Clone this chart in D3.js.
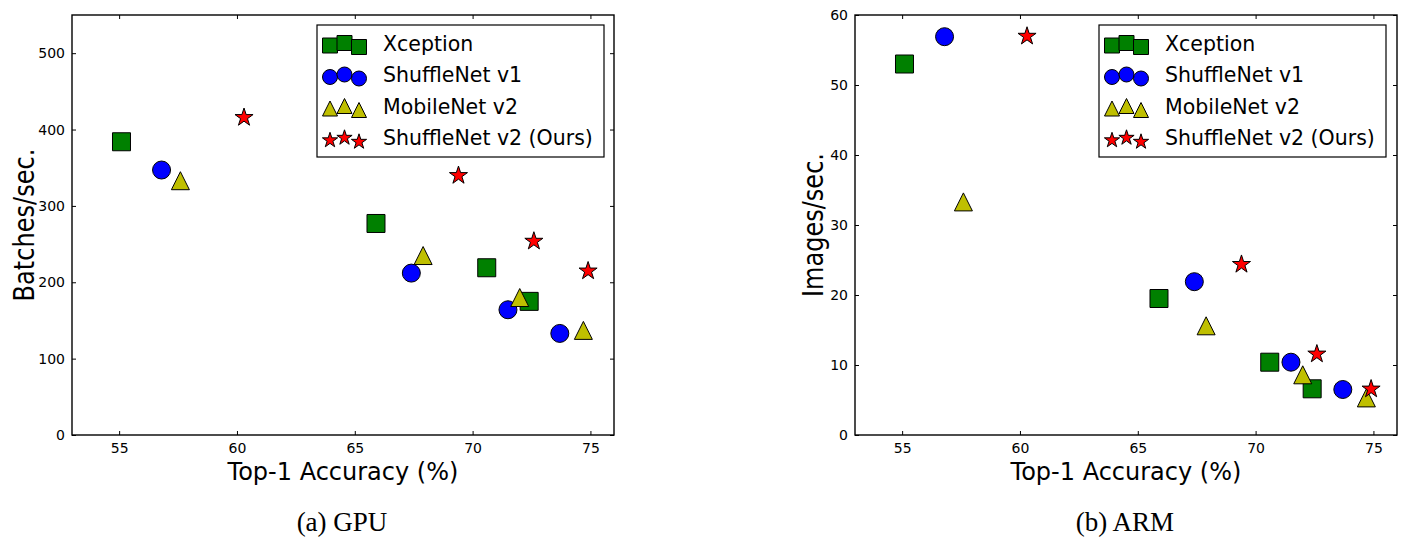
<!DOCTYPE html>
<html>
<head>
<meta charset="utf-8">
<script src="https://cdn.jsdelivr.net/npm/d3@7"></script>
<style>
  html, body { margin: 0; padding: 0; background: #fff; }
  svg { display: block; }
  text { font-family: "DejaVu Sans", sans-serif; fill: #000; }
</style>
</head>
<body>
<svg id="chart" width="1406" height="538"></svg>
<script>
// ---------------- data ----------------
const seriesNames = ["Xception", "ShuffleNet v1", "MobileNet v2", "ShuffleNet v2 (Ours)"];
const xceptionAcc = [55.1, 65.9, 70.6, 72.4];
const shuffleV1Acc = [56.8, 67.4, 71.5, 73.7];
const mobileV2Acc = [57.6, 67.9, 72.0, 74.7];
const shuffleV2Acc = [60.3, 69.4, 72.6, 74.9];

const xceptionGPU = [384, 277, 219, 175];
const shuffleV1GPU = [347, 212, 164, 133];
const mobileV2GPU = [333, 235, 180, 137];
const shuffleV2GPU = [417, 341, 255, 216];

const xceptionARM = [53.0, 19.5, 10.4, 6.6];
const shuffleV1ARM = [56.9, 21.9, 10.4, 6.5];
const mobileV2ARM = [33.3, 15.6, 8.6, 5.3];
const shuffleV2ARM = [57.1, 24.5, 11.7, 6.7];

const xTicks = [55, 60, 65, 70, 75];
const gpuTicks = [0, 100, 200, 300, 400, 500];
const armTicks = [0, 10, 20, 30, 40, 50, 60];

const xLabel = "Top-1 Accuracy (%)";
const panelSpecs = [
  { yLabel: "Batches/sec.", caption: "(a) GPU", yMax: 550, yTicks: gpuTicks,
    values: [xceptionGPU, shuffleV1GPU, mobileV2GPU, shuffleV2GPU] },
  { yLabel: "Images/sec.", caption: "(b) ARM", yMax: 60, yTicks: armTicks,
    values: [xceptionARM, shuffleV1ARM, mobileV2ARM, shuffleV2ARM] }
];
const accs = [xceptionAcc, shuffleV1Acc, mobileV2Acc, shuffleV2Acc];

// ---------------- styles ----------------
const colors = ["#008000", "#0000ff", "#bfbf00", "#ff0000"];
const shapes = ["square", "circle", "triangle", "star"];

const layouts = [
  { left: 72, right: 614, top: 15, bottom: 435, yLabelX: 34, yLabelLen: 153, legendX: 317 },
  { left: 855, right: 1397, top: 15, bottom: 435, yLabelX: 823, yLabelLen: 144, legendX: 1099 }
];

function markerPath(shape, s) {
  const h = s / 2;
  if (shape === "square") return `M${-h},${-h}H${h}V${h}H${-h}Z`;
  if (shape === "circle") return `M${h},0A${h},${h} 0 1,1 ${-h},0A${h},${h} 0 1,1 ${h},0Z`;
  if (shape === "triangle") return `M0,${-h}L${h},${h}L${-h},${h}Z`;
  const R = h, r = h * 0.381966;
  let d = "";
  for (let i = 0; i < 10; i++) {
    const rad = i % 2 === 0 ? R : r;
    const a = -Math.PI / 2 + i * Math.PI / 5;
    d += (i === 0 ? "M" : "L") + (rad * Math.cos(a)).toFixed(2) + "," + (rad * Math.sin(a) + h * 0.1).toFixed(2);
  }
  return d + "Z";
}
const plotSize = [18, 18, 18, 19];
const legSize = [15, 15, 15, 16];

const svg = d3.select("#chart");

panelSpecs.forEach((spec, pi) => {
  const L = layouts[pi];
  const x = d3.scaleLinear().domain([53, 76]).range([L.left, L.right]);
  const y = d3.scaleLinear().domain([0, spec.yMax]).range([L.bottom, L.top]);
  const g = svg.append("g");

  const axB = g.append("g").attr("transform", `translate(0,${L.bottom})`)
    .call(d3.axisBottom(x).tickValues(xTicks).tickSize(-4).tickPadding(8).tickFormat(d3.format("d")));
  const axT = g.append("g").attr("transform", `translate(0,${L.top})`)
    .call(d3.axisTop(x).tickValues(xTicks).tickSize(-4).tickFormat(""));
  const axL = g.append("g").attr("transform", `translate(${L.left},0)`)
    .call(d3.axisLeft(y).tickValues(spec.yTicks).tickSize(-4).tickPadding(7).tickFormat(d3.format("d")));
  const axR = g.append("g").attr("transform", `translate(${L.right},0)`)
    .call(d3.axisRight(y).tickValues(spec.yTicks).tickSize(-4).tickFormat(""));
  [axB, axT, axL, axR].forEach(a => {
    a.select(".domain").remove();
    a.selectAll(".tick line").attr("stroke", "#000").attr("stroke-width", 1);
    a.selectAll(".tick text").style("font-family", "'DejaVu Sans', sans-serif").style("font-size", "14px").attr("fill", "#000");
  });

  g.append("rect").attr("x", L.left).attr("y", L.top)
    .attr("width", L.right - L.left).attr("height", L.bottom - L.top)
    .attr("fill", "none").attr("stroke", "#000").attr("stroke-width", 1.4);

  spec.values.forEach((vals, si) => {
    g.append("g").selectAll("path").data(vals).join("path")
      .attr("d", markerPath(shapes[si], plotSize[si]))
      .attr("transform", (d, i) => `translate(${x(accs[si][i])},${y(d)})`)
      .attr("fill", colors[si]).attr("stroke", "#000").attr("stroke-width", 1);
  });

  g.append("text").attr("x", (L.left + L.right) / 2).attr("y", 480)
    .attr("text-anchor", "middle").style("font-size", "24px").text(xLabel);
  g.append("text").attr("transform", `translate(${L.yLabelX},${(L.top + L.bottom) / 2}) rotate(-90)`)
    .attr("text-anchor", "middle").style("font-size", "28px")
    .attr("textLength", L.yLabelLen).attr("lengthAdjust", "spacingAndGlyphs")
    .text(spec.yLabel);

  g.append("text").attr("x", (L.left + L.right) / 2 - 1).attr("y", 531)
    .attr("text-anchor", "middle")
    .style("font-family", "'Liberation Serif', serif").style("font-size", "27px").attr("fill", "#222")
    .text(spec.caption);

  const lg = g.append("g");
  lg.append("rect").attr("x", L.legendX).attr("y", 25).attr("width", 287).attr("height", 132)
    .attr("fill", "#fff").attr("stroke", "#000").attr("stroke-width", 1.2);
  const rowY = [43, 74.5, 106, 137];
  const mxOff = [13, 27.5, 42];
  const myOff = [2.5, 0, 4];
  seriesNames.forEach((name, si) => {
    mxOff.forEach((dx, k) => {
      lg.append("path").attr("d", markerPath(shapes[si], legSize[si]))
        .attr("transform", `translate(${L.legendX + dx},${rowY[si] + myOff[k]})`)
        .attr("fill", colors[si]).attr("stroke", "#000").attr("stroke-width", 1);
    });
    lg.append("text").attr("x", L.legendX + 66).attr("y", rowY[si] + 7.5)
      .style("font-size", "20.5px").text(name);
  });
});
</script>
</body>
</html>
